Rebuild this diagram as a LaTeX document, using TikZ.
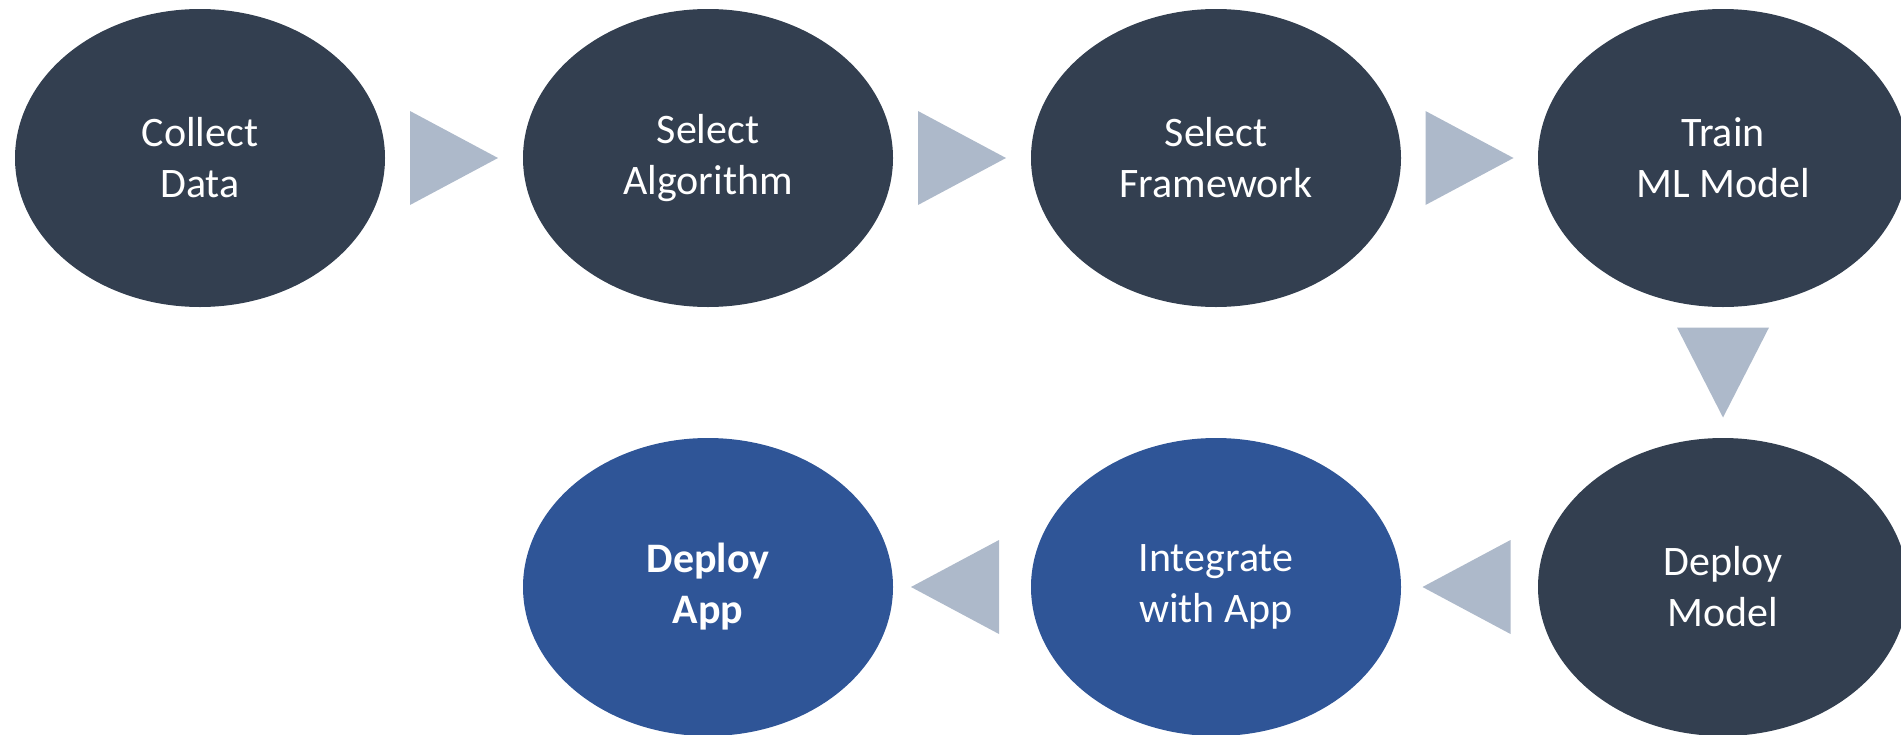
\documentclass[tikz,border=0pt]{standalone}
\usepackage{fontspec}
\setmainfont{Carlito}
\usetikzlibrary{shapes.geometric,calc}

\definecolor{stepdark}{RGB}{51,63,80}
\definecolor{stepblue}{RGB}{47,85,151}
\definecolor{arrowgray}{RGB}{173,185,202}

\tikzset{
  stepnode/.style={ellipse, minimum width=370pt, minimum height=298pt, inner sep=0pt,
    fill=stepdark, text=white, align=center, font=\fontsize{42}{51}\selectfont},
  finalnode/.style={stepnode, fill=stepblue},
  flowarrow/.style={fill=arrowgray}
}

\begin{document}
\begin{tikzpicture}[x=1pt, y=-1pt]
  \useasboundingbox (0,0) rectangle (1901,734);
  \clip (0,0) rectangle (1901,734);

  % process steps
  \node[stepnode]  (collect)   at (200,158) {Collect\\Data};
  \node[stepnode]  (algo)      at (708,158) {Select\\Algorithm};
  \node[stepnode]  (framework) at (1216,158) {Select\\Framework};
  \node[stepnode]  (train)     at (1723,158) {Train\\ML Model};
  \node[stepnode]  (deploym)   at (1723,587) {Deploy\\Model};
  \node[finalnode] (integrate) at (1216,587) {Integrate\\with App};
  \node[finalnode] (deploya)   at (708,587) {\textbf{Deploy}\\\textbf{App}};

  % arrow heads between consecutive steps
  \foreach \a/\b in {collect/algo, algo/framework, framework/train} {
    \coordinate (m) at ($(\a)!0.5!(\b)$);
    \fill[flowarrow] ([shift={(-44,-47)}]m) -- ([shift={(44,0)}]m) -- ([shift={(-44,47)}]m) -- cycle;
  }
  \coordinate (md) at ($(train)!0.5!(deploym)$);
  \fill[flowarrow] ([shift={(-46,-45)}]md) -- ([shift={(46,-45)}]md) -- ([shift={(0,45)}]md) -- cycle;
  \foreach \a/\b/\dx in {deploym/integrate/-3, integrate/deploya/-7} {
    \coordinate (m) at ($(\a)!0.5!(\b)+(\dx,0)$);
    \fill[flowarrow] ([shift={(44,-47)}]m) -- ([shift={(-44,0)}]m) -- ([shift={(44,47)}]m) -- cycle;
  }
\end{tikzpicture}
\end{document}
